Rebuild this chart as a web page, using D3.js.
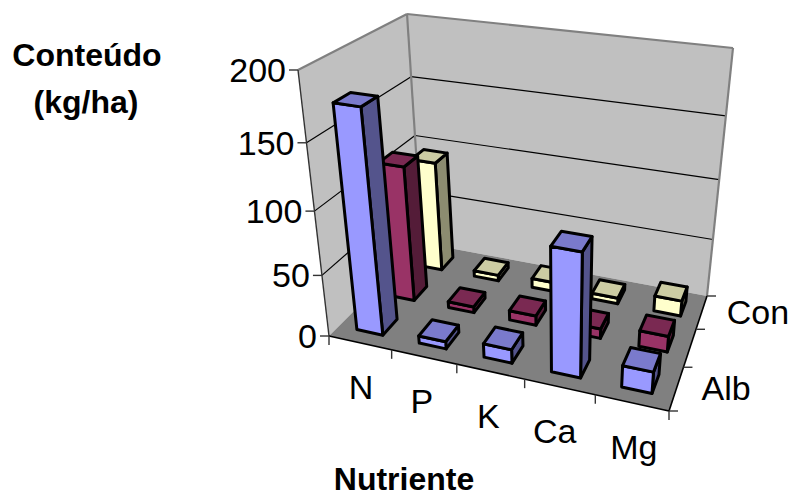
<!DOCTYPE html>
<html>
<head>
<meta charset="utf-8">
<script src="https://cdn.jsdelivr.net/npm/d3@7"></script>
<style>
  html, body { margin: 0; padding: 0; background: #fff; }
  text { font-family: "Liberation Sans", Arial, sans-serif; fill: #000; }
</style>
</head>
<body>
<div id="content"></div>
<script>
// Data
var categories = ["N", "P", "K", "Ca", "Mg"];
var seriesNames = ["Alb", "", "Con"];
var albValues = [175, 6, 11, 97, 17];
var midValues = [112, 5, 8, 8, 13];
var conValues = [95, 5, 8, 5, 13];
var valueTicks = [0, 50, 100, 150, 200];

var seriesValues = [albValues, midValues, conValues];
var seriesColors = ["#9999ff", "#993366", "#ffffcc"];

var width = 792, height = 497;
var svg = d3.select("#content").append("svg")
    .attr("width", width)
    .attr("height", height)
    .style("display", "block");

// Corners of the plot box as seen on screen: front left, front right, back right, back left
var floorQuad = [[329, 336], [669, 411], [707, 296], [422, 243]];
var ceilQuad = [[298, 70], [694, 125], [733, 48], [407, 14]];
var perspective = 1.13; // heights squeeze a bit towards the floor

// unit square -> quad
function homography(q) {
    var dx1 = q[1][0] - q[2][0], dx2 = q[3][0] - q[2][0], sx = q[0][0] - q[1][0] + q[2][0] - q[3][0];
    var dy1 = q[1][1] - q[2][1], dy2 = q[3][1] - q[2][1], sy = q[0][1] - q[1][1] + q[2][1] - q[3][1];
    var det = dx1 * dy2 - dx2 * dy1;
    var g = (sx * dy2 - dx2 * sy) / det, h = (dx1 * sy - sx * dy1) / det;
    var a = q[1][0] - q[0][0] + g * q[1][0], b = q[3][0] - q[0][0] + h * q[3][0];
    var d = q[1][1] - q[0][1] + g * q[1][1], e = q[3][1] - q[0][1] + h * q[3][1];
    return function(u, v) {
        var w = g * u + h * v + 1;
        return [(a * u + b * v + q[0][0]) / w, (d * u + e * v + q[0][1]) / w];
    };
}
var onFloor = homography(floorQuad), onCeil = homography(ceilQuad);

var xscale = d3.scaleBand().domain(categories).range([0, 1]).paddingInner(0.58).paddingOuter(0.29);
var xstep = d3.scaleBand().domain(categories).range([0, 1]);
var zscale = d3.scaleBand().domain(d3.range(seriesNames.length)).range([0, 1]).paddingInner(0.56).paddingOuter(0.28);
var zstep = d3.scaleBand().domain(d3.range(seriesNames.length)).range([0, 1]);
var yscale = d3.scaleLinear().domain([0, 200]).range([0, 1]);

function project(u, v, value) {
    var h = yscale(value);
    var t = h / (h + (1 - h) * perspective);
    var a = onFloor(u, v), b = onCeil(u, v);
    return [a[0] + (b[0] - a[0]) * t, a[1] + (b[1] - a[1]) * t];
}

var outline = d3.line().curve(d3.curveLinearClosed);

function face(g, pts, fill, stroke, sw) {
    g.append("path")
        .attr("d", outline(pts))
        .attr("fill", fill)
        .attr("stroke", stroke)
        .attr("stroke-width", sw)
        .attr("stroke-linejoin", "round");
}

function seg(g, a, b, color, sw) {
    g.append("line")
        .attr("x1", a[0]).attr("y1", a[1])
        .attr("x2", b[0]).attr("y2", b[1])
        .attr("stroke", color)
        .attr("stroke-width", sw);
}

// Walls and floor
var box = svg.append("g");
face(box, [project(0, 0, 0), project(0, 1, 0), project(0, 1, 200), project(0, 0, 200)], "#c0c0c0", "none", 0);
face(box, [project(0, 1, 0), project(1, 1, 0), project(1, 1, 200), project(0, 1, 200)], "#c0c0c0", "none", 0);
face(box, [project(0, 0, 0), project(1, 0, 0), project(1, 1, 0), project(0, 1, 0)], "#808080", "none", 0);

// Gridlines
valueTicks.slice(1, 4).forEach(function(t) {
    seg(box, project(0, 0, t), project(0, 1, t), "#000", 1.2);
    seg(box, project(0, 1, t), project(1, 1, t), "#000", 1.2);
});

// Wall edges
seg(box, project(0, 0, 200), project(0, 1, 200), "#808080", 2.2);
seg(box, project(0, 1, 200), project(1, 1, 200), "#808080", 2.2);
seg(box, project(0, 1, 0), project(0, 1, 200), "#808080", 2.2);
seg(box, project(1, 1, 0), project(1, 1, 200), "#808080", 2.2);

// Axes
var axes = svg.append("g");
seg(axes, project(0, 0, 0), project(0, 0, 200), "#333", 1.4);
seg(axes, project(0, 0, 0), project(1, 0, 0), "#000", 1.6);
seg(axes, project(1, 0, 0), project(1, 1, 0), "#000", 1.6);

valueTicks.forEach(function(t) {
    var p = project(0, 0, t);
    seg(axes, [p[0] - 9, p[1]], p, "#333", 1.4);
    axes.append("text")
        .attr("x", p[0] - 12)
        .attr("y", p[1] + 12)
        .attr("text-anchor", "end")
        .style("font-size", "34px")
        .text(t);
});

// Ticks under the front edge, one per category boundary
d3.range(categories.length + 1).forEach(function(i) {
    var p = project(i / categories.length, 0, 0);
    seg(axes, p, [p[0], p[1] + 9], "#333", 1.4);
});
var categoryNudge = [2, -1, -1, -4, 3]; // labels do not sit evenly in the original
categories.forEach(function(c, i) {
    var p = project(xstep(c) + xstep.bandwidth() / 2, 0, 0);
    axes.append("text")
        .attr("x", p[0] - 1 + categoryNudge[i])
        .attr("y", p[1] + 56)
        .attr("text-anchor", "middle")
        .style("font-size", "34px")
        .text(c);
});

// Ticks on the right edge, one per series boundary
d3.range(seriesNames.length + 1).forEach(function(i) {
    var p = project(1, i / seriesNames.length, 0);
    seg(axes, p, [p[0] + 9, p[1]], "#333", 1.4);
});
seriesNames.forEach(function(s, i) {
    var p = project(1, zstep(i) + zstep.bandwidth() / 2, 0);
    axes.append("text")
        .attr("x", p[0] + 25)
        .attr("y", p[1] + 12)
        .style("font-size", "34px")
        .text(s);
});

function shade(color, k) {
    var c = d3.rgb(color);
    return d3.rgb(c.r * k, c.g * k, c.b * k).formatHex();
}

// Bars, back row first, left to right so the nearer ones cover the others
var bars = svg.append("g");
d3.range(seriesNames.length).reverse().forEach(function(si) {
    categories.forEach(function(c, ci) {
        var value = seriesValues[si][ci];
        var u0 = xscale(c), u1 = u0 + xscale.bandwidth();
        var v0 = zscale(si), v1 = v0 + zscale.bandwidth();
        var color = seriesColors[si];
        var g = bars.append("g");
        face(g, [project(u1, v0, 0), project(u1, v1, 0), project(u1, v1, value), project(u1, v0, value)], shade(color, 0.55), "#000", 3);
        face(g, [project(u0, v0, 0), project(u1, v0, 0), project(u1, v0, value), project(u0, v0, value)], color, "#000", 3);
        face(g, [project(u0, v0, value), project(u1, v0, value), project(u1, v1, value), project(u0, v1, value)], shade(color, 0.8), "#000", 3);
    });
});

// Titles
function title(txt, x, y) {
    svg.append("text")
        .attr("x", x)
        .attr("y", y)
        .attr("text-anchor", "middle")
        .style("font-size", "32px")
        .style("font-weight", "bold")
        .text(txt);
}
title("Conteúdo", 87, 66);
title("(kg/ha)", 86, 113);
title("Nutriente", 404, 490);
</script>
</body>
</html>
